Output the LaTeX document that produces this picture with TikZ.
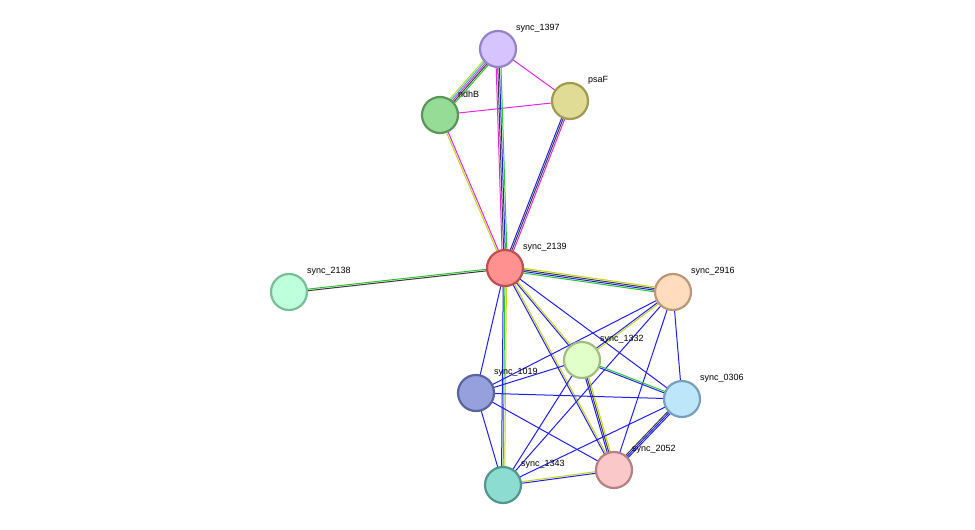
\documentclass[tikz,border=0pt]{standalone}
\usepackage{fontspec}
\setmainfont{Liberation Sans}
\usetikzlibrary{calc,backgrounds}
\definecolor{eg}{RGB}{40,200,40}
\definecolor{ek}{RGB}{60,60,60}
\definecolor{eb}{RGB}{30,30,240}
\definecolor{em}{RGB}{225,40,225}
\definecolor{ey}{RGB}{195,215,20}
\definecolor{ec}{RGB}{30,190,230}
\newcommand\ed[3]{\foreach \c/\o in {#3}{\draw[edge,\c] ($(#1)!\o*1.6pt!90:(#2)$) -- ($(#2)!\o*1.6pt!-90:(#1)$);}}
\newcommand\prot[6]{\definecolor{f#1}{RGB}{#4}\definecolor{d#1}{RGB}{#5}%
\node[prot,fill=f#1,draw=d#1] (#1) at (#2,#3) {};
\node[lab] at ($(#1)+(17,-21)$) {#6};}
\begin{document}
\begin{tikzpicture}[x=1pt,y=-1pt,
 prot/.style={circle,minimum size=36pt,inner sep=0pt,line width=2.2pt},
 lab/.style={anchor=west,font=\fontsize{9}{10}\selectfont,inner sep=1pt},
 edge/.style={line width=1pt}]
\useasboundingbox (0,0) rectangle (975,530);
\prot{n1397}{498}{49}{213,196,255}{150,130,200}{sync\_1397}
\prot{psaF}{570}{101}{224,220,150}{160,155,80}{psaF}
\prot{ndhB}{440}{115}{150,220,150}{90,150,90}{ndhB}
\prot{n2139}{505}{268}{255,145,145}{190,80,80}{sync\_2139}
\prot{n2138}{289}{292}{190,255,220}{120,190,150}{sync\_2138}
\prot{n2916}{673}{292}{255,220,190}{190,150,120}{sync\_2916}
\prot{n1332}{582}{360}{225,255,200}{160,190,130}{sync\_1332}
\prot{n1019}{476}{393}{150,160,220}{90,100,160}{sync\_1019}
\prot{n0306}{682}{399}{190,230,250}{120,160,190}{sync\_0306}
\prot{n1343}{503}{485}{140,220,210}{80,150,140}{sync\_1343}
\prot{n2052}{614}{470}{250,200,200}{180,130,130}{sync\_2052}
\begin{scope}[on background layer]
\ed{n1397}{ndhB}{ey/-2,ec/-1,em/0,ek/1,eg/2}
\ed{n1397}{psaF}{em/0}
\ed{ndhB}{psaF}{em/0}
\ed{n1397}{n2139}{em/-1.5,ek/-0.5,eb/0.5,eg/1.5}
\ed{ndhB}{n2139}{ey/-0.5,em/0.5}
\ed{psaF}{n2139}{eb/-1,ek/0,em/1}
\ed{n2139}{n2138}{eg/-0.5,ek/0.5}
\ed{n2139}{n2916}{eg/-1.5,eb/-0.5,ek/0.5,ey/1.5}
\ed{n2139}{n1332}{eb/-0.5,ey/0.5}
\ed{n2139}{n2052}{eb/-0.5,ey/0.5}
\ed{n2139}{n0306}{eb/0}
\ed{n2139}{n1343}{eb/-1,eg/0,ey/1}
\ed{n2139}{n1019}{eb/0}
\ed{n2916}{n1019}{eb/0}
\ed{n2916}{n1332}{eb/-0.5,ey/0.5}
\ed{n2916}{n1343}{eb/0}
\ed{n2916}{n2052}{eb/0}
\ed{n2916}{n0306}{eb/0}
\ed{n1332}{n0306}{eb/-0.5,eg/0.5}
\ed{n1332}{n2052}{eb/-1,ek/0,ey/1}
\ed{n1332}{n1343}{eb/0}
\ed{n1332}{n1019}{eb/0}
\ed{n1019}{n0306}{eb/0}
\ed{n1019}{n2052}{eb/0}
\ed{n1019}{n1343}{eb/0}
\ed{n0306}{n1343}{eb/0}
\ed{n0306}{n2052}{ek/-1,eb/0,eb/1}
\ed{n1343}{n2052}{eb/-0.5,ey/0.5}
\end{scope}
\end{tikzpicture}
\end{document}
